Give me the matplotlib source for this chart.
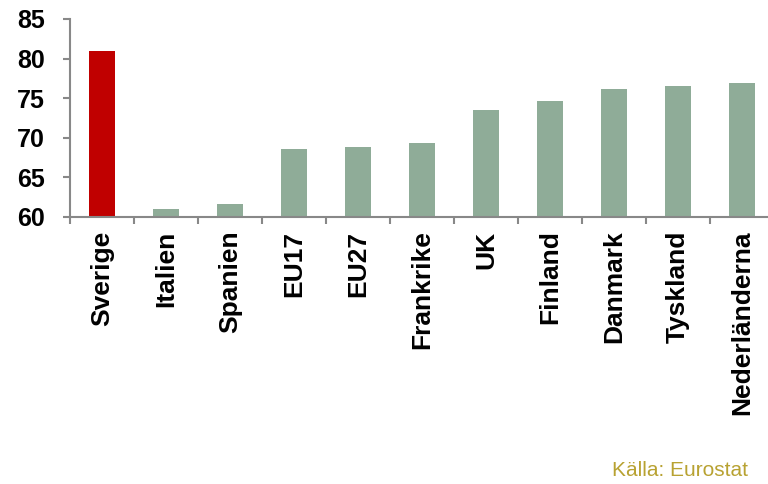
import matplotlib
matplotlib.use("Agg")
import matplotlib.pyplot as plt
from matplotlib.ticker import FixedLocator, NullFormatter

categories = ["Sverige", "Italien", "Spanien", "EU17", "EU27", "Frankrike", "UK",
              "Finland", "Danmark", "Tyskland", "Nederländerna"]
values = [80.9, 61.0, 61.6, 68.5, 68.8, 69.35, 73.5, 74.6, 76.2, 76.5, 76.9]
colors = ["#C00000"] + ["#8FAC98"] * 10
yticks = [60, 65, 70, 75, 80, 85]

plt.rcParams['font.family'] = ['Liberation Sans', 'DejaVu Sans']

fig = plt.figure(figsize=(7.68, 4.84), dpi=100)
ax = fig.add_axes([70/768, 1 - 216.7/484, 704/768, (216.7 - 19)/484])

x = list(range(len(categories)))
ax.bar(x, [v - 60 for v in values], bottom=60, width=0.41, color=colors)

ax.set_xlim(-0.5, len(categories) - 0.5)
ax.set_ylim(60, 85)
ax.set_yticks(yticks)
ax.set_yticklabels([str(t) for t in yticks], fontsize=18, fontweight='bold')

ax.set_xticks(x)
ax.set_xticklabels(categories, rotation=90, fontsize=19, fontweight='bold')
ax.tick_params(axis='x', which='major', length=0, pad=10)
ax.xaxis.set_minor_locator(FixedLocator([i + 0.5 for i in range(-1, len(categories))]))
ax.xaxis.set_minor_formatter(NullFormatter())
ax.tick_params(axis='x', which='minor', length=5, width=1.5, color='#888888', direction='out')
ax.tick_params(axis='y', length=5, width=1.5, color='#888888', direction='out', pad=13)

for s in ['top', 'right']:
    ax.spines[s].set_visible(False)
for s in ['left', 'bottom']:
    ax.spines[s].set_color('#888888')
    ax.spines[s].set_linewidth(1.5)

fig.text(748/768, 1 - 470/484, "Källa: Eurostat", ha='right', va='center',
         fontsize=15, color='#B8A232')

fig.savefig("out.png", dpi=100)
